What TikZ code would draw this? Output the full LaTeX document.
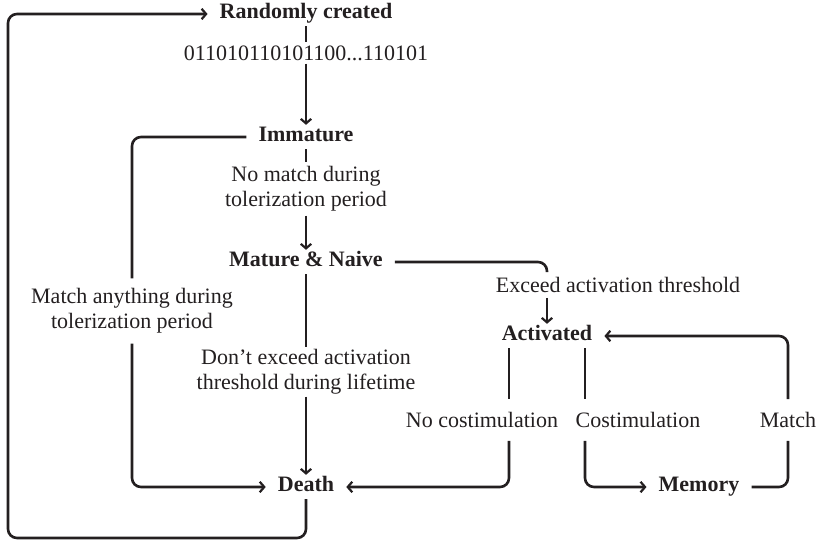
\documentclass[tikz,border=0pt]{standalone}
\usepackage{fontspec}
\setmainfont{Liberation Serif}
\usetikzlibrary{arrows.meta,calc}
\definecolor{ink}{RGB}{35,31,32}
\begin{document}
\begin{tikzpicture}[x=1pt,y=-1pt,
  every node/.style={font=\fontsize{22pt}{25pt}\selectfont, text=ink},
  state/.style={font=\fontsize{22pt}{25pt}\selectfont\bfseries, text height=1.1em, text depth=0.3em, inner xsep=12pt, inner ysep=5pt},
  lbl/.style={align=center, inner xsep=2pt},
  conn/.style={draw=ink, line width=2.6pt, rounded corners=9pt},
  arr/.style={conn, -{Straight Barb[length=4.5pt,width=10.5pt,line width=2.2pt]}}]
\useasboundingbox (0,0) rectangle (825,542);

% states
\node[state] (rc)    at (306,14)  {Randomly created};
\node[state] (imm)   at (306,137) {Immature};
\node[state] (mn)    at (306,262) {Mature \& Naive};
\node[state] (act)   at (547,336) {Activated};
\node[state] (death) at (306,487) {Death};
\node[state] (mem)   at (699,487) {Memory};

% transition labels
\node[lbl, inner ysep=3pt]  (bits)     at (306,53)  {011010110101100...110101};
\node[lbl, inner ysep=4pt]  (nomatch)  at (306,189) {No match during\\tolerization period};
\node[lbl, inner ysep=10pt] (matchany) at (132,311) {Match anything during\\tolerization period};
\node[lbl, inner ysep=2pt]  (dontexc)  at (306,372) {Don’t exceed activation\\threshold during lifetime};
\node[lbl, inner ysep=5pt]  (exceed)   at (618,285) {Exceed activation threshold};
\node[lbl, inner ysep=13pt] (noco)     at (482,420) {No costimulation};
\node[lbl, inner ysep=13pt] (co)       at (638,420) {Costimulation};
\node[lbl, inner ysep=13pt] (match)    at (788,420) {Match};

\coordinate (bl) at (8,538);
\path (act.south) ++(-38,0) coordinate (aL) ++(76,0) coordinate (aR);

% creation and maturation
\draw[conn] (rc) -- (bits);
\draw[arr]  (bits) -- (imm);
\draw[conn] (imm) -- (nomatch);
\draw[arr]  (nomatch) -- (mn);

% negative selection
\draw[conn] (imm.west) -| (matchany.north);
\draw[arr]  (matchany.south) |- (death.west);

% naive cell dies without activation
\draw[conn] (mn) -- (dontexc);
\draw[arr]  (dontexc) -- (death);

% activation
\draw[conn] (mn.east) -| (exceed.north -| act.north);
\draw[arr]  (exceed.south -| act.north) -- (act.north);

% activated cell: death or memory
\draw[conn] (aL) -- (aL |- noco.north);
\draw[arr]  (aL |- noco.south) |- (death.east);
\draw[conn] (aR) -- (aR |- co.north);
\draw[arr]  (aR |- co.south) |- (mem.west);

% memory cell re-activated on match
\draw[conn] (mem.east) -| (match.south);
\draw[arr]  (match.north) |- (act.east);

% dead cells are replaced by new random ones
\draw[arr] (death.south) |- (bl) |- (rc.west);
\end{tikzpicture}
\end{document}
